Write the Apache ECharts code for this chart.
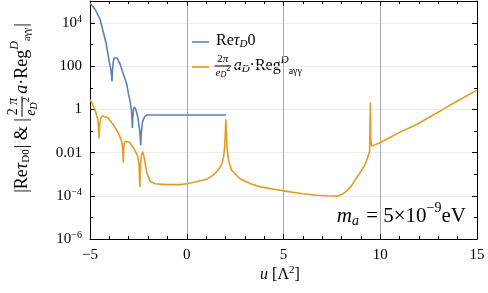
<!DOCTYPE html>
<html><head><meta charset="utf-8">
<script src="https://cdn.jsdelivr.net/npm/echarts@6/dist/echarts.min.js"></script>
<style>html,body{margin:0;padding:0;background:#fff}#c{width:488px;height:293px}</style>
</head><body><div id="c"></div>
<script>
// ---- data ----
const blueU = [-5,-4.75,-4.48,-4.17,-4.0,-3.93,-3.88,-3.86,-3.84,-3.8,-3.75,-3.7,-3.6,-3.45,-3.3,-3.1,-3.0,-2.93,-2.86,-2.83,-2.81,-2.79,-2.75,-2.71,-2.63,-2.52,-2.44,-2.4,-2.38,-2.35,-2.28,-2.18,-2.07,2.03];
const blueV = [8.3e4,4.5e4,1.5e4,1.2e3,150,75,35,20,60,160,240,275,240,130,50,15,4.5,2.5,0.9,0.35,0.14,0.4,1.0,1.3,1.0,0.4,0.12,0.045,0.022,0.08,0.28,0.46,0.55,0.55];
const orangeU = [-5,-4.85,-4.7,-4.6,-4.56,-4.53,-4.5,-4.45,-4.38,-4.3,-4.1,-3.8,-3.5,-3.35,-3.3,-3.28,-3.25,-3.2,-3.12,-2.95,-2.75,-2.55,-2.47,-2.42,-2.39,-2.34,-2.28,-2.2,-2.07,-1.9,-1.64,-1.04,-0.35,0,0.5,1.03,1.4,1.65,1.8,1.9,1.96,2.0,2.02,2.04,2.08,2.15,2.3,2.75,3.27,3.79,4.99,6.0,6.72,7.3,7.8,8.05,8.27,8.5,8.78,9.0,9.21,9.35,9.45,9.47,9.49,9.51,9.55,9.64,9.99,10.5,11.02,11.88,12.74,13.6,15];
const orangeV = [2.9,1.6,0.75,0.35,0.18,0.045,0.2,0.38,0.5,0.55,0.42,0.2,0.07,0.03,0.012,0.0034,0.02,0.033,0.038,0.03,0.016,0.0075,0.003,0.00025,0.0025,0.008,0.011,0.006,0.0012,0.00048,0.00036,0.00033,0.00033,0.00036,0.00045,0.00058,0.00095,0.0017,0.0028,0.006,0.018,0.12,0.35,0.12,0.018,0.005,0.0016,0.00062,0.00037,0.00026,0.00017,0.000125,0.000107,0.0001,0.000097,0.00012,0.00017,0.00028,0.00069,0.0014,0.0028,0.006,0.0115,0.012,2.1,0.05,0.02,0.0165,0.029,0.05,0.089,0.2,0.55,1.55,7.8];
const xTicks = [-5,0,5,10,15];
const yTickExp = [-6,-4,-2,0,2,4];

const FF = '"Liberation Serif", "Times New Roman", serif';
const cv = document.createElement('canvas').getContext('2d');
function mw(t, s, it){ cv.font = (it?'italic ':'') + s + 'px ' + FF; return cv.measureText(t).width; }
function layout(pieces, x0, out){
  let x = x0;
  pieces.forEach(p => {
    if (p.frac) {
      const tmpN = [], tmpD = [];
      const wn = layout(p.frac.num, 0, tmpN), wd = layout(p.frac.den, 0, tmpD);
      const W = Math.max(wn, wd) + 3;
      tmpN.forEach(e => { e.x += x + (W - wn)/2; e.y += -p.frac.off; out.push(e); });
      tmpD.forEach(e => { e.x += x + (W - wd)/2; e.y += p.frac.off; out.push(e); });
      out.push({type:'rect', shape:{x:x+0.5, y:(p.frac.ly||0)-0.5, width:W-1, height:1}, style:{fill:'#000'}, z:100});
      x += W + (p.gap||1);
    } else {
      out.push({type:'text', x:x, y:(p.dy||0), style:{text:p.t, fontSize:p.s, fontFamily:FF, fontStyle:p.i?'italic':'normal', fill:'#000', align:'left', verticalAlign:'middle'}});
      x += mw(p.t, p.s, p.i) + (p.gap||0);
    }
  });
  return x - x0;
}
function mathGroup(pieces, x, y, rot, anchor){
  const ch = []; const w = layout(pieces, 0, ch);
  let ox = 0; if (anchor === 'center') ox = -w/2; else if (anchor === 'right') ox = -w;
  ch.forEach(e => { if (e.type === 'rect') { e.shape.x += ox; } else e.x += ox; });
  return {type:'group', x:x, y:y, rotation:rot||0, children:ch, silent:true};
}

const S = 18;
const yTitle = mathGroup([
  {t:'|Re', s:S}, {t:'τ', s:S, i:1}, {t:'D0', s:11, dy:4, gap:1}, {t:'| & |', s:S, gap:1},
  {frac:{num:[{t:'2 ', s:14},{t:'π', s:14, i:1}], den:[{t:'e', s:14, i:1},{t:'D', s:10, i:1, dy:3},{t:'2', s:10, dy:-5}], off:9}, gap:2},
  {t:'a', s:S, i:1}, {t:'·Reg', s:S}, {t:'D', s:12, i:1, dy:-7}, {t:'aγγ', s:10, dy:5, gap:1}, {t:'|', s:S}
], 22, 108, Math.PI/2, 'center');

const L = 16;
const leg1 = mathGroup([{t:'Re', s:L}, {t:'τ', s:L, i:1}, {t:'D', s:11, i:1, dy:3}, {t:'0', s:L}], 216, 41, 0);
const leg2 = mathGroup([
  {frac:{num:[{t:'2', s:11},{t:'π', s:11, i:1}], den:[{t:'e', s:11, i:1},{t:'D', s:8, i:1, dy:2},{t:'2', s:8, dy:-4}], off:7}, gap:2},
  {t:'a', s:L, i:1}, {t:'D', s:11, i:1, dy:3}, {t:'·Reg', s:L}, {t:'D', s:11, i:1, dy:-6}, {t:'aγγ', s:10, dy:5}
], 214, 66, 0);
const annot = mathGroup([{t:'m', s:21, i:1}, {t:'a', s:14, i:1, dy:5, gap:2}, {t:' = 5×10', s:21}, {t:'−9', s:14, dy:-8}, {t:'eV', s:21}], 466, 216, 0, 'right');
const xTitle = mathGroup([{t:'u', s:16, i:1}, {t:' [Λ', s:16}, {t:'2', s:11, dy:-5}, {t:']', s:16}], 280, 275, 0, 'center');

function yLab(v){
  const e = Math.round(Math.log10(v));
  if (e === -2) return '0.01'; if (e === 0) return '1'; if (e === 2) return '100';
  return '10{sup|' + (e < 0 ? '−' + (-e) : e) + '}';
}
const YMIN = Math.pow(10, yTickExp[0]), YMAX = 1.05e5;
const tickCol = '#000';
const chart = echarts.init(document.getElementById('c'), null, {renderer:'canvas'});
const yBase = {type:'log', logBase:10, min:YMIN, max:YMAX, interval:2};
const noLine = {show:false, onZero:false};
chart.setOption({
  animation:false,
  grid:{left:90, right:11, top:1, bottom:54, containLabel:false},
  xAxis:[
    {type:'value', min:xTicks[0], max:xTicks[xTicks.length-1], interval:5, position:'bottom',
     axisLine:{show:true, onZero:false, lineStyle:{color:'#000', width:1}},
     axisTick:{show:true, inside:true, length:5, lineStyle:{color:tickCol}},
     minorTick:{show:true, splitNumber:5, length:3, lineStyle:{color:tickCol}},
     axisLabel:{show:true, margin:9, fontFamily:FF, fontSize:15, color:'#000', formatter:v => v < 0 ? '−' + (-v) : String(v)},
     splitLine:{show:true, lineStyle:{color:'#a8a8a8', width:1}}},
    {type:'value', min:xTicks[0], max:xTicks[xTicks.length-1], interval:5, position:'top',
     axisLine:{show:true, onZero:false, lineStyle:{color:'#000', width:1}},
     axisTick:{show:true, inside:true, length:5, lineStyle:{color:tickCol}},
     minorTick:{show:true, splitNumber:5, length:3, lineStyle:{color:tickCol}},
     axisLabel:{show:false}, splitLine:{show:false}}
  ],
  yAxis:[
    Object.assign({}, yBase, {position:'left',
     axisLine:{show:true, onZero:false, lineStyle:{color:'#000', width:1}},
     axisTick:{show:true, inside:true, length:5, lineStyle:{color:tickCol}},
     axisLabel:{show:true, margin:8, showMaxLabel:false, fontFamily:FF, fontSize:15, color:'#000', formatter:yLab,
       rich:{sup:{fontFamily:FF, fontSize:10, verticalAlign:'top', padding:[0,0,7,0]}}},
     splitLine:{show:true, lineStyle:{color:'#ececec', width:1}}}),
    Object.assign({}, yBase, {position:'left', interval:1, axisLine:noLine,
     axisTick:{show:true, inside:true, length:3, lineStyle:{color:tickCol}},
     axisLabel:{show:false}, splitLine:{show:false}}),
    Object.assign({}, yBase, {position:'right',
     axisLine:{show:true, onZero:false, lineStyle:{color:'#000', width:1}},
     axisTick:{show:true, inside:true, length:5, lineStyle:{color:tickCol}},
     axisLabel:{show:false}, splitLine:{show:false}}),
    Object.assign({}, yBase, {position:'right', interval:1, axisLine:noLine,
     axisTick:{show:true, inside:true, length:3, lineStyle:{color:tickCol}},
     axisLabel:{show:false}, splitLine:{show:false}})
  ],
  series:[
    {name:'Reτ_D0', type:'line', xAxisIndex:0, yAxisIndex:0, showSymbol:false, symbol:'none',
     lineStyle:{color:'#5E81B5', width:1.6}, data: blueU.map((u,i) => [u, blueV[i]])},
    {name:'2π/e_D² a_D·Reg^D_aγγ', type:'line', xAxisIndex:0, yAxisIndex:0, showSymbol:false, symbol:'none',
     lineStyle:{color:'#E19C24', width:1.6}, data: orangeU.map((u,i) => [u, orangeV[i]])}
  ],
  graphic:[
    yTitle, leg1, leg2, annot, xTitle,
    {type:'line', z:50, shape:{x1:192, y1:42, x2:209, y2:42}, style:{stroke:'#5E81B5', lineWidth:1.6}},
    {type:'line', z:50, shape:{x1:192, y1:67, x2:209, y2:67}, style:{stroke:'#E19C24', lineWidth:1.6}}
  ]
});
</script></body></html>
